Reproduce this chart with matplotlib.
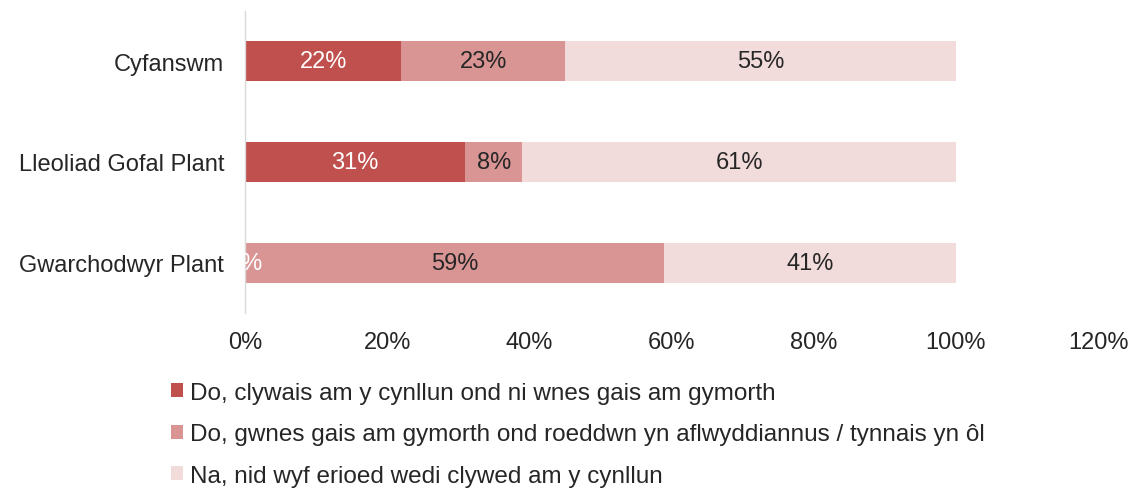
import matplotlib
matplotlib.use("Agg")
import matplotlib.pyplot as plt
from matplotlib.patches import Patch
from matplotlib.ticker import FuncFormatter

categories = ["Cyfanswm", "Lleoliad Gofal Plant", "Gwarchodwyr Plant"]
series_names = [
    "Do, clywais am y cynllun ond ni wnes gais am gymorth",
    "Do, gwnes gais am gymorth ond roeddwn yn aflwyddiannus / tynnais yn ôl",
    "Na, nid wyf erioed wedi clywed am y cynllun",
]
heard_not_applied = [22, 31, 0]
applied_unsuccessful = [23, 8, 59]
never_heard = [55, 61, 41]
xticks = [0, 20, 40, 60, 80, 100, 120]

colors = ["#C0504D", "#D99594", "#F2DCDB"]
label_colors = ["white", "#262626", "#262626"]

plt.rcParams["font.family"] = ["Liberation Sans", "DejaVu Sans"]
FS = 17

W, H = 1134, 489
fig = plt.figure(figsize=(W / 100, H / 100), dpi=100)
ax = fig.add_axes([245 / W, 1 - 314 / H, (1098 - 245) / W, (314 - 12) / H])

ypos = list(range(len(categories)))
left = [0] * len(categories)
for vals, col, lc in zip([heard_not_applied, applied_unsuccessful, never_heard], colors, label_colors):
    ax.barh(ypos, vals, left=left, height=0.4, color=col)
    for y, v, l in zip(ypos, vals, left):
        ax.text(l + v / 2, y, f"{v}%", ha="center", va="center", color=lc,
                fontsize=FS, clip_on=True)
    left = [a + b for a, b in zip(left, vals)]

ax.set_xlim(0, 120)
ax.set_ylim(len(categories) - 0.5, -0.5)
ax.set_yticks(ypos)
ax.set_yticklabels(categories)
ax.set_xticks(xticks)
ax.xaxis.set_major_formatter(FuncFormatter(lambda v, p: f"{int(v)}%"))
ax.tick_params(axis="both", length=0, labelsize=FS, colors="#262626")
ax.tick_params(axis="y", pad=15)
ax.tick_params(axis="x", pad=13)
for s in ["top", "right", "bottom"]:
    ax.spines[s].set_visible(False)
ax.spines["left"].set_color("#D9D9D9")
ax.spines["left"].set_linewidth(1)

handles = [Patch(facecolor=c, edgecolor="none") for c in colors]
leg = fig.legend(handles, series_names, loc="upper left",
                 bbox_to_anchor=(171 / W, 1 - 383 / H), frameon=False,
                 fontsize=17.5, handlelength=0.5, handleheight=0.5,
                 handletextpad=0.3, labelspacing=0.8, borderaxespad=0,
                 borderpad=0)
for t in leg.get_texts():
    t.set_color("#262626")

fig.savefig("out.png", dpi=100)
